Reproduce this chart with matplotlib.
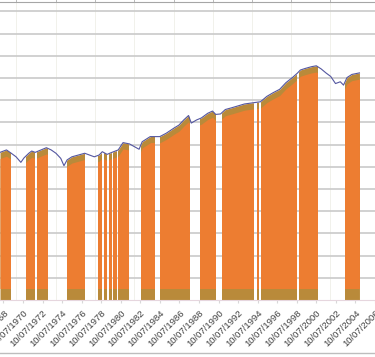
import numpy as np
import matplotlib
matplotlib.use("Agg")
import matplotlib.pyplot as plt
from matplotlib.path import Path
from matplotlib.patches import PathPatch
from matplotlib.lines import Line2D

# index level (decimal year, value in grid units)
years = [1968.42, 1969.08, 1969.57, 1970.06, 1970.55, 1970.87, 1971.36, 1971.66,
         1972.02, 1972.34, 1972.83, 1973.16, 1973.65, 1974.14, 1974.63, 1974.96,
         1975.28, 1975.77, 1976.43, 1977.08, 1977.57, 1978.06, 1978.55, 1978.88,
         1979.37, 1979.86, 1980.51, 1981.00, 1981.66, 1982.15, 1982.64, 1982.96,
         1983.78, 1984.76, 1985.41, 1986.23, 1986.72, 1987.21, 1987.70, 1987.98,
         1988.52, 1989.01, 1989.66, 1990.15, 1990.48, 1990.97, 1991.46, 1992.12,
         1993.42, 1994.40, 1995.06, 1995.70, 1996.36, 1997.02, 1997.66, 1998.32,
         1998.81, 1999.14, 1999.63, 2000.28, 2000.77, 2001.26, 2001.75, 2002.24,
         2002.73, 2003.22, 2003.55, 2003.91, 2004.40, 2005.18]
level = [6.65, 6.76, 6.61, 6.45, 6.20, 6.40, 6.61, 6.71,
         6.65, 6.71, 6.80, 6.86, 6.76, 6.61, 6.38, 6.05,
         6.31, 6.45, 6.53, 6.61, 6.53, 6.45, 6.53, 6.68,
         6.56, 6.65, 6.76, 7.09, 7.03, 6.91, 6.79, 7.13,
         7.36, 7.36, 7.51, 7.75, 7.88, 8.11, 8.31, 7.97,
         8.11, 8.20, 8.41, 8.51, 8.36, 8.38, 8.58, 8.66,
         8.83, 8.89, 8.93, 9.17, 9.34, 9.49, 9.79, 10.02,
         10.21, 10.36, 10.43, 10.51, 10.55, 10.41, 10.23, 10.07,
         9.75, 9.83, 9.68, 10.02, 10.16, 10.23]

# periods in the market (start, end)
invested_start = [1967.40, 1971.04, 1972.17, 1975.28, 1978.39, 1979.03, 1979.55, 1980.02,
                  1980.51, 1982.80, 1984.76, 1988.84, 1991.09, 1994.72, 1995.12,
                  1999.04, 2003.67]
invested_end = [1969.50, 1972.02, 1973.32, 1977.08, 1978.87, 1979.40, 1979.88, 1980.35,
                1981.66, 1984.27, 1987.86, 1990.53, 1994.40, 1994.89, 1998.81,
                2000.97, 2005.70]

tick_years = list(range(1968, 2008, 2))
tick_labels = ["10/07/%d" % y for y in tick_years]
tick_pos = [y + 0.77 for y in tick_years]
vgrid_years = [1970.1, 1974.1, 1978.1, 1982.1, 1986.2, 1990.2, 1994.2, 1998.2, 2002.2]

orange = "#ED7D31"
olive = "#B98A3A"
line_col = "#5457A0"

plt.rcParams["font.family"] = ["Liberation Sans", "DejaVu Sans"]
fig = plt.figure(figsize=(3.75, 3.57), dpi=100)
ax = fig.add_axes([0, 57 / 357, 1, 298 / 357])

x = np.array(years)
y = np.array(level)

# clip region made of the invested periods
verts, codes = [], []
for s, e in zip(invested_start, invested_end):
    verts += [(s, -1), (e, -1), (e, 20), (s, 20), (s, -1)]
    codes += [Path.MOVETO, Path.LINETO, Path.LINETO, Path.LINETO, Path.CLOSEPOLY]
clip = PathPatch(Path(verts, codes), transform=ax.transData, visible=False)
ax.add_patch(clip)

fills = [
    ax.fill_between(x, 0, y, color=olive, lw=0, zorder=1),
    ax.fill_between(x, 0.52, y - 0.28, color=orange, lw=0, zorder=1.1),
]
for f in fills:
    f.set_clip_path(clip)

ax.plot(x, y, color=line_col, lw=0.8, zorder=3)

ax.set_xlim(1970.77 - 24 / 10.2, 1970.77 + 351 / 10.2)
ax.set_ylim(0, 298 / 22.2)

ax.set_yticks(range(1, 14))
ax.set_yticklabels([])
ax.tick_params(axis="y", length=0)
ax.grid(axis="y", color="#CACACA", lw=1.2)

ax.set_xticks(tick_pos)
ax.set_xticklabels(tick_labels, rotation=45, ha="right", rotation_mode="anchor",
                   fontsize=6.8, color="#404040")
ax.set_xticks(vgrid_years, minor=True)
ax.tick_params(axis="x", which="major", length=2, color="#D8D8D8", pad=4)
ax.tick_params(axis="x", which="minor", bottom=False, top=True, length=2,
               color="#B0B0B0")
ax.grid(axis="x", which="minor", color="#EFEFE8", lw=0.6)
ax.set_axisbelow(True)

for side in ["left", "right"]:
    ax.spines[side].set_visible(False)
ax.spines["top"].set_color("#A6A6A6")
ax.spines["top"].set_linewidth(0.8)
ax.spines["bottom"].set_color("#E6D6DE")
ax.spines["bottom"].set_linewidth(0.8)

fig.add_artist(Line2D([0, 1], [4 / 357, 4 / 357], transform=fig.transFigure,
                      color="#BDBDBD", lw=1))

fig.savefig("out.png", dpi=100)
